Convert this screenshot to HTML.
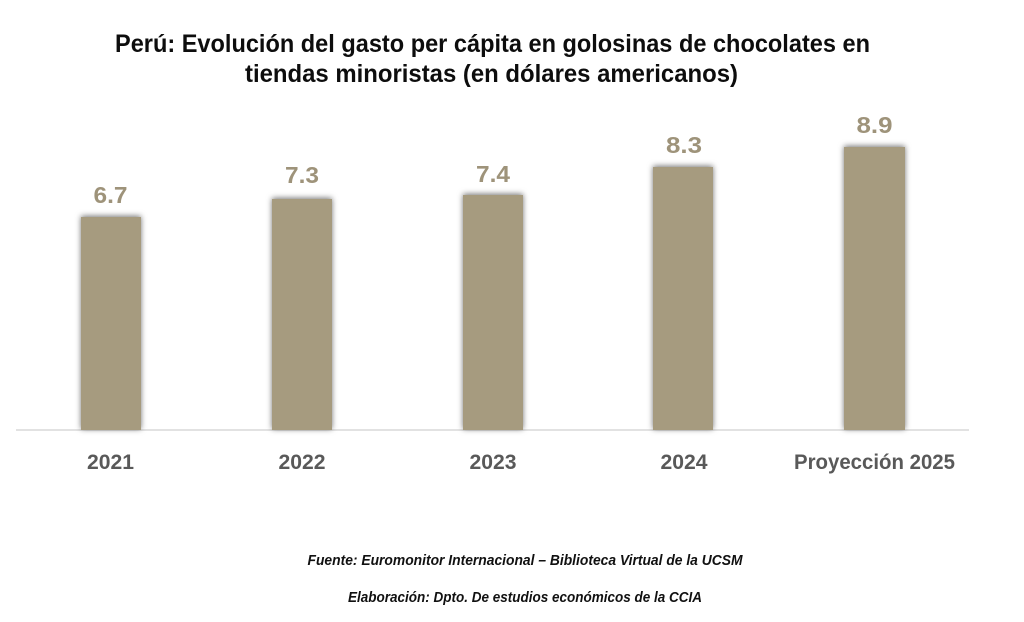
<!DOCTYPE html>
<html>
<head>
<meta charset="utf-8">
<style>
  html,body{margin:0;padding:0;background:#fff;}
  svg{display:block;}
  .t{font-family:"Liberation Sans",sans-serif;font-weight:bold;fill:#0d0d0d;font-size:25px;}
  .v{font-family:"Liberation Sans",sans-serif;font-weight:bold;fill:#9e937a;font-size:23px;}
  .c{font-family:"Liberation Sans",sans-serif;font-weight:bold;fill:#595959;font-size:21px;}
  .f{font-family:"Liberation Sans",sans-serif;font-weight:bold;font-style:italic;fill:#111;font-size:14.5px;}
</style>
</head>
<body>
<svg width="1024" height="622" viewBox="0 0 1024 622" xmlns="http://www.w3.org/2000/svg">
  <defs>
    <filter id="sh" x="-30%" y="-10%" width="160%" height="120%">
      <feDropShadow dx="0" dy="-1" stdDeviation="3" flood-color="#000" flood-opacity="0.55"/>
    </filter>
  </defs>
  <rect width="1024" height="622" fill="#fff"/>

  <text class="t" x="492.5" y="52" text-anchor="middle" textLength="755" lengthAdjust="spacingAndGlyphs">Perú: Evolución del gasto per cápita en golosinas de chocolates en</text>
  <text class="t" x="491.5" y="82" text-anchor="middle" textLength="493" lengthAdjust="spacingAndGlyphs">tiendas minoristas (en dólares americanos)</text>

  <line x1="16" y1="430" x2="969" y2="430" stroke="#d9d9d9" stroke-width="1.5"/>

  <g fill="#a69b7f" filter="url(#sh)">
    <rect x="81" y="217" width="60" height="213"/>
    <rect x="272" y="199" width="60" height="231"/>
    <rect x="463" y="195" width="60" height="235"/>
    <rect x="653" y="167" width="60" height="263"/>
    <rect x="844" y="147" width="61" height="283"/>
  </g>

  <text class="v" x="110.5" y="203" text-anchor="middle" textLength="34" lengthAdjust="spacingAndGlyphs">6.7</text>
  <text class="v" x="302" y="183" text-anchor="middle" textLength="34" lengthAdjust="spacingAndGlyphs">7.3</text>
  <text class="v" x="493" y="182" text-anchor="middle" textLength="34" lengthAdjust="spacingAndGlyphs">7.4</text>
  <text class="v" x="684" y="153" text-anchor="middle" textLength="36" lengthAdjust="spacingAndGlyphs">8.3</text>
  <text class="v" x="874.5" y="133" text-anchor="middle" textLength="36" lengthAdjust="spacingAndGlyphs">8.9</text>

  <text class="c" x="110.5" y="469" text-anchor="middle" textLength="47" lengthAdjust="spacingAndGlyphs">2021</text>
  <text class="c" x="302" y="469" text-anchor="middle" textLength="47" lengthAdjust="spacingAndGlyphs">2022</text>
  <text class="c" x="493" y="469" text-anchor="middle" textLength="47" lengthAdjust="spacingAndGlyphs">2023</text>
  <text class="c" x="684" y="469" text-anchor="middle" textLength="47" lengthAdjust="spacingAndGlyphs">2024</text>
  <text class="c" x="874.5" y="469" text-anchor="middle" textLength="161" lengthAdjust="spacingAndGlyphs">Proyección 2025</text>

  <text class="f" x="525" y="565" text-anchor="middle" textLength="435" lengthAdjust="spacingAndGlyphs">Fuente: Euromonitor Internacional – Biblioteca Virtual de la UCSM</text>
  <text class="f" x="525" y="602" text-anchor="middle" textLength="354" lengthAdjust="spacingAndGlyphs">Elaboración: Dpto. De estudios económicos de la CCIA</text>
</svg>
</body>
</html>
